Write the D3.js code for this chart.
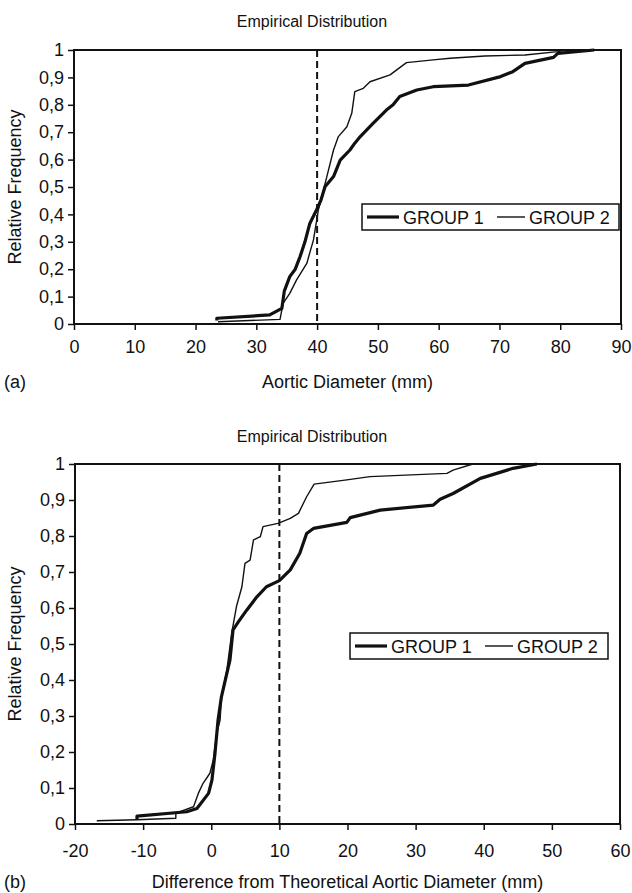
<!DOCTYPE html>
<html>
<head>
<meta charset="utf-8">
<script src="https://cdn.jsdelivr.net/npm/d3@7"></script>
<style>
  body { margin: 0; background: #fff; }
  svg text { font-family: "Liberation Sans", Arial, sans-serif; fill: #111; }
</style>
</head>
<body>
<div id="chart"></div>
<script>
    // panel (a): aortic diameter, mm -> cumulative relative frequency
    const groupOneA = [
      [23.5, 0.013], [23.5, 0.021], [32.2, 0.033], [34.2, 0.057], [34.6, 0.120], [35.5, 0.173],
      [36.4, 0.200], [37.2, 0.246], [38.0, 0.300], [38.8, 0.367], [39.9, 0.416], [40.6, 0.450],
      [41.3, 0.501], [42.7, 0.538], [43.8, 0.598], [45.4, 0.635], [46.2, 0.660], [47.1, 0.684],
      [49.2, 0.732], [51.4, 0.781], [52.5, 0.800], [53.6, 0.830], [56.4, 0.854], [59.1, 0.866],
      [64.9, 0.872], [70.2, 0.903], [72.2, 0.921], [74.2, 0.951], [78.9, 0.973], [79.6, 0.988],
      [85.6, 1.0]
    ];
    const groupTwoA = [
      [23.7, 0.008], [33.9, 0.017], [34.4, 0.075], [35.5, 0.112], [36.6, 0.160], [38.3, 0.221],
      [39.4, 0.307], [40.2, 0.416], [41.6, 0.538], [42.7, 0.635], [43.5, 0.684], [44.9, 0.720],
      [45.7, 0.769], [46.2, 0.848], [47.6, 0.860], [48.7, 0.884], [52.0, 0.909], [54.7, 0.954],
      [59.1, 0.964], [61.9, 0.970], [67.6, 0.978], [74.2, 0.982], [79.6, 0.994], [81.0, 1.0]
    ];

    // panel (b): difference from theoretical diameter, mm
    const groupOneB = [
      [-10.9, 0.011], [-10.9, 0.022], [-3.6, 0.034], [-2.1, 0.043], [-0.4, 0.085], [0.1, 0.122],
      [0.55, 0.196], [1.0, 0.289], [1.5, 0.354], [2.3, 0.419], [2.75, 0.456], [3.2, 0.539],
      [4.0, 0.562], [5.2, 0.594], [6.7, 0.631], [8.1, 0.659], [10.0, 0.676], [11.6, 0.706],
      [13.0, 0.752], [14.0, 0.807], [15.0, 0.821], [19.9, 0.838], [20.4, 0.851], [24.8, 0.872],
      [32.6, 0.886], [33.6, 0.902], [35.5, 0.918], [39.5, 0.960], [41.9, 0.974], [44.3, 0.988],
      [47.8, 1.0]
    ];
    const groupTwoB = [
      [-16.8, 0.009], [-10.9, 0.012], [-5.2, 0.016], [-5.2, 0.030], [-2.6, 0.048], [-1.9, 0.085],
      [-1.2, 0.113], [-0.2, 0.141], [0.3, 0.178], [0.8, 0.252], [1.3, 0.289], [1.5, 0.354],
      [2.3, 0.428], [3.0, 0.530], [3.7, 0.604], [4.5, 0.659], [4.95, 0.724], [5.7, 0.733],
      [6.2, 0.789], [7.2, 0.798], [7.6, 0.826], [9.8, 0.835], [11.6, 0.849], [12.8, 0.863],
      [14.0, 0.909], [15.1, 0.944], [19.9, 0.956], [23.3, 0.965], [34.6, 0.974], [35.5, 0.983],
      [38.4, 1.0]
    ];

    const yTicks = [0, 0.1, 0.2, 0.3, 0.4, 0.5, 0.6, 0.7, 0.8, 0.9, 1];
    const xTicksA = [0, 10, 20, 30, 40, 50, 60, 70, 80, 90];
    const xTicksB = [-20, -10, 0, 10, 20, 30, 40, 50, 60];
    const seriesNames = ['GROUP 1', 'GROUP 2'];

    const width = 632;
    const height = 893;

    const svg = d3.select('#chart').append('svg')
      .attr('width', width)
      .attr('height', height);

    const fmtY = d => (d === 0 || d === 1) ? String(d) : d.toFixed(1).replace('.', ',');
    const fmtX = d => String(d); // plain hyphen minus, like the original

    const panels = [
      {
        top: 50, bottom: 324, left: 74, right: 621, titleY: 27, tickPad: 10,
        xDomain: [0, 90], xTicks: xTicksA, cutoff: 40,
        series: [groupOneA, groupTwoA],
        xLabel: 'Aortic Diameter (mm)', tag: '(a)', labelY: 388,
        legend: { x: 362, y: 204, w: 257, h: 26 }
      },
      {
        top: 464, bottom: 824, left: 75, right: 620, titleY: 442, tickPad: 14,
        xDomain: [-20, 60], xTicks: xTicksB, cutoff: 10,
        series: [groupOneB, groupTwoB],
        xLabel: 'Difference from Theoretical Aortic Diameter (mm)', tag: '(b)', labelY: 888,
        legend: { x: 350, y: 633, w: 258, h: 26 }
      }
    ];

    panels.forEach(drawPanel);

    function drawPanel(p) {
      const g = svg.append('g');

      const x = d3.scaleLinear().domain(p.xDomain).range([p.left, p.right]);
      const y = d3.scaleLinear().domain([0, 1]).range([p.bottom, p.top]);

      // title
      g.append('text')
        .attr('x', 312)
        .attr('y', p.titleY)
        .attr('text-anchor', 'middle')
        .style('font-size', '16px')
        .text('Empirical Distribution');

      // axes
      const xAxis = g.append('g')
        .attr('transform', `translate(0,${p.bottom})`)
        .call(d3.axisBottom(x).tickValues(p.xTicks).tickFormat(fmtX).tickSize(6).tickPadding(p.tickPad));
      const yAxis = g.append('g')
        .attr('transform', `translate(${p.left},0)`)
        .call(d3.axisLeft(y).tickValues(yTicks).tickFormat(fmtY).tickSize(6).tickPadding(4));

      [xAxis, yAxis].forEach(a => {
        a.select('.domain').remove();
        a.selectAll('line').attr('stroke', '#111').attr('stroke-width', 1.5);
        a.selectAll('text').style('font-size', '18px').attr('fill', '#111');
      });

      // frame
      g.append('rect')
        .attr('x', p.left).attr('y', p.top)
        .attr('width', p.right - p.left).attr('height', p.bottom - p.top)
        .attr('fill', 'none').attr('stroke', '#111').attr('stroke-width', 2);

      // cutoff
      g.append('line')
        .attr('x1', x(p.cutoff)).attr('x2', x(p.cutoff))
        .attr('y1', p.top).attr('y2', p.bottom)
        .attr('stroke', '#111').attr('stroke-width', 2)
        .attr('stroke-dasharray', '7,4');

      const line = d3.line().x(d => x(d[0])).y(d => y(d[1]));
      const widths = [3.2, 1.4];

      p.series.forEach((s, i) => {
        g.append('path')
          .datum(s)
          .attr('d', line)
          .attr('fill', 'none')
          .attr('stroke', '#111')
          .attr('stroke-width', widths[i])
          .attr('stroke-linejoin', 'round');
      });

      // axis titles
      g.append('text')
        .attr('x', (p.left + p.right) / 2)
        .attr('y', p.labelY)
        .attr('text-anchor', 'middle')
        .style('font-size', '18px')
        .text(p.xLabel);

      g.append('text')
        .attr('transform', `translate(21,${(p.top + p.bottom) / 2}) rotate(-90)`)
        .attr('text-anchor', 'middle')
        .style('font-size', '18px')
        .text('Relative Frequency');

      g.append('text')
        .attr('x', 4)
        .attr('y', p.labelY)
        .style('font-size', '18px')
        .text(p.tag);

      // legend
      const L = p.legend;
      const lg = g.append('g').attr('transform', `translate(${L.x},${L.y})`);
      lg.append('rect')
        .attr('width', L.w).attr('height', L.h)
        .attr('fill', '#fff').attr('stroke', '#111').attr('stroke-width', 1.5);
      const items = [
        { lx: 5, len: 32, tx: 41 },
        { lx: 135, len: 28, tx: 167 }
      ];
      items.forEach((it, i) => {
        lg.append('line')
          .attr('x1', it.lx).attr('x2', it.lx + it.len)
          .attr('y1', L.h / 2).attr('y2', L.h / 2)
          .attr('stroke', '#111').attr('stroke-width', widths[i]);
        lg.append('text')
          .attr('x', it.tx).attr('y', L.h / 2 + 6.5)
          .style('font-size', '18px')
          .text(seriesNames[i]);
      });
    }
</script>
</body>
</html>
